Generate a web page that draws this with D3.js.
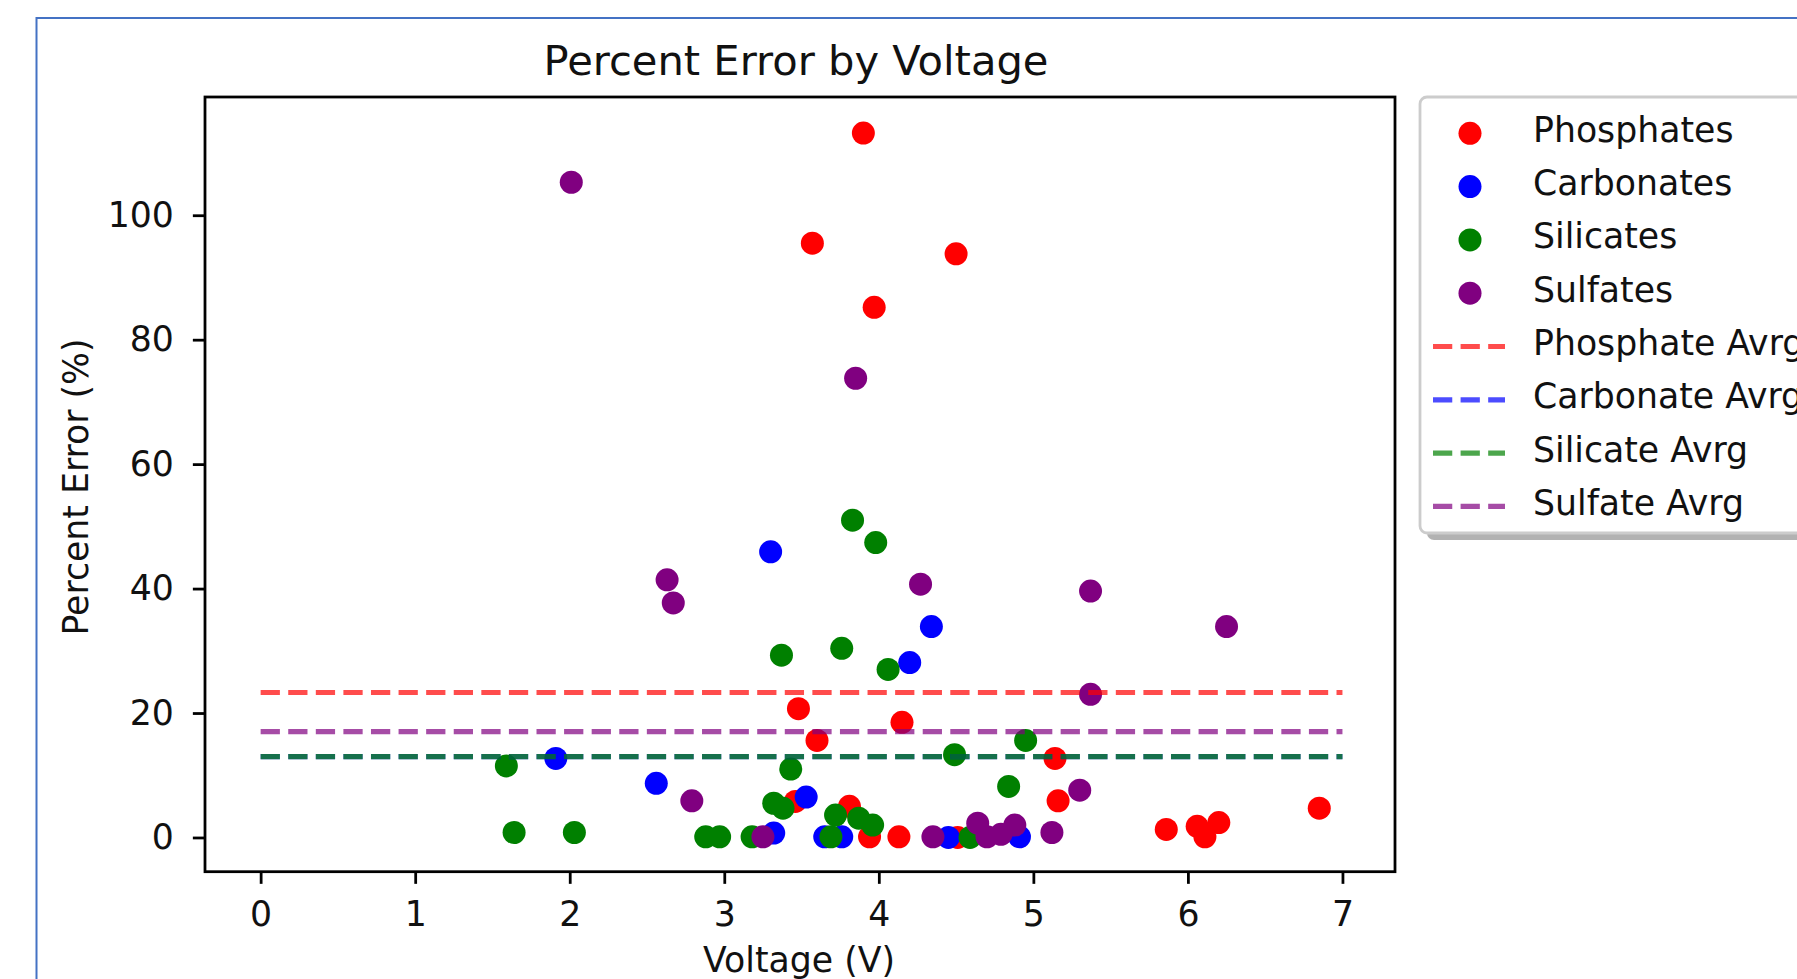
<!DOCTYPE html>
<html>
<head>
<meta charset="utf-8">
<script src="https://cdn.jsdelivr.net/npm/d3@7"></script>
<style>
  body { margin: 0; background: #fff; }
  svg { display: block; font-family: "DejaVu Sans", sans-serif; }
</style>
</head>
<body>
<div id="chart"></div>
<script>
// values
const seriesNames = ["Phosphates", "Carbonates", "Silicates", "Sulfates"];
const avgNames = ["Phosphate Avrg", "Carbonate Avrg", "Silicate Avrg", "Sulfate Avrg"];

const phosphateVolt = [3.90, 3.57, 4.50, 3.97, 3.48, 4.15, 3.60, 5.14, 5.16, 3.46, 3.81, 6.85, 5.86, 6.06, 6.20, 6.11, 3.94, 4.13, 4.51];
const phosphateErr  = [113.2, 95.5, 93.8, 85.2, 20.7, 18.5, 15.6, 12.7, 5.9, 5.8, 5.0, 4.7, 1.3, 1.8, 2.4, 0.1, 0.1, 0.1, 0.0];

const carbonateVolt = [3.30, 4.34, 4.20, 1.91, 2.56, 3.53, 3.32, 3.65, 3.76, 4.45, 4.91];
const carbonateErr  = [45.9, 33.9, 28.1, 12.7, 8.7, 6.5, 0.7, 0.1, 0.1, 0.0, 0.1];

const silicateVolt = [3.83, 3.98, 3.37, 3.76, 4.06, 4.49, 4.95, 1.59, 3.43, 4.84, 3.32, 3.38, 3.72, 3.87, 3.96, 1.64, 2.03, 2.88, 2.97, 3.18, 3.69, 4.59];
const silicateErr  = [51.0, 47.4, 29.3, 30.4, 27.0, 13.3, 15.6, 11.5, 11.0, 8.2, 5.5, 4.7, 3.6, 3.1, 2.0, 0.8, 0.8, 0.1, 0.1, 0.1, 0.1, 0.0];

const sulfateVolt = [2.01, 3.85, 2.63, 2.67, 4.27, 5.37, 6.25, 5.37, 5.30, 2.79, 3.25, 4.35, 4.64, 4.70, 4.79, 4.88, 5.12];
const sulfateErr  = [105.3, 73.8, 41.4, 37.7, 40.7, 39.6, 33.9, 23.0, 7.6, 5.9, 0.1, 0.1, 2.3, 0.1, 0.5, 2.0, 0.8];

const avgValues = [23.3, 13.0, 13.0, 17.0];
const avgVoltRange = [0, 7];

const xTicks = [0, 1, 2, 3, 4, 5, 6, 7];
const yTicks = [0, 20, 40, 60, 80, 100];

const colors = ["red", "blue", "green", "purple"];

const W = 1797, H = 979;
const pt = 3.47;            // pixels per matplotlib point
const fs = 10 * pt;         // base font size
const dotR = 11.5;
const dash = (3.7 * 1.5 * pt) + "," + (1.6 * 1.5 * pt);

const plot = { left: 205, right: 1395, top: 97, bottom: 871.7 };

let series = [
  d3.zip(phosphateVolt, phosphateErr),
  d3.zip(carbonateVolt, carbonateErr),
  d3.zip(silicateVolt, silicateErr),
  d3.zip(sulfateVolt, sulfateErr)
];

let x = d3.scaleLinear()
  .domain([-0.36, 7.34])
  .range([plot.left, plot.right]);

let y = d3.scaleLinear()
  .domain([-5.5, 119.0])
  .range([plot.bottom, plot.top]);

const svg = d3.select("#chart").append("svg")
  .attr("width", W)
  .attr("height", H);

svg.append("rect")
  .attr("width", W).attr("height", H)
  .attr("fill", "#fff");

// outer notebook frame
svg.append("rect")
  .attr("x", 36.5).attr("y", 18)
  .attr("width", W + 50).attr("height", H + 50)
  .attr("fill", "none")
  .attr("stroke", "#4472c4")
  .attr("stroke-width", 2);

// points
series.forEach(function(data, i) {
  svg.append("g").selectAll("circle")
    .data(data)
    .enter().append("circle")
    .attr("cx", function(d) { return x(d[0]); })
    .attr("cy", function(d) { return y(d[1]); })
    .attr("r", dotR)
    .attr("fill", colors[i]);
});

// average lines
avgValues.forEach(function(v, i) {
  svg.append("line")
    .attr("x1", x(avgVoltRange[0]))
    .attr("x2", x(avgVoltRange[1]))
    .attr("y1", y(v))
    .attr("y2", y(v))
    .attr("stroke", colors[i])
    .attr("stroke-opacity", 0.7)
    .attr("stroke-width", 1.5 * pt)
    .attr("stroke-dasharray", dash);
});

// axes
let xAxis = d3.axisBottom(x).tickValues(xTicks).tickSize(3.5 * pt).tickPadding(18);
let yAxis = d3.axisLeft(y).tickValues(yTicks).tickSize(3.5 * pt).tickPadding(19);

let gx = svg.append("g")
  .attr("transform", "translate(0," + plot.bottom + ")")
  .call(xAxis);
let gy = svg.append("g")
  .attr("transform", "translate(" + plot.left + ",0)")
  .call(yAxis);

[gx, gy].forEach(function(g) {
  g.select(".domain").remove();
  g.selectAll(".tick line").attr("stroke", "#000").attr("stroke-width", 0.8 * pt);
  g.selectAll(".tick text")
    .attr("font-family", "DejaVu Sans")
    .attr("font-size", fs)
    .attr("fill", "#111");
});

svg.append("rect")
  .attr("x", plot.left).attr("y", plot.top)
  .attr("width", plot.right - plot.left)
  .attr("height", plot.bottom - plot.top)
  .attr("fill", "none")
  .attr("stroke", "#000")
  .attr("stroke-width", 0.8 * pt);

// labels
svg.append("text")
  .attr("x", 796).attr("y", 75)
  .attr("text-anchor", "middle")
  .attr("font-size", 12 * pt)
  .attr("fill", "#111")
  .text("Percent Error by Voltage");

svg.append("text")
  .attr("x", 799).attr("y", 972)
  .attr("text-anchor", "middle")
  .attr("font-size", fs)
  .attr("fill", "#111")
  .text("Voltage (V)");

svg.append("text")
  .attr("transform", "translate(88,487) rotate(-90)")
  .attr("text-anchor", "middle")
  .attr("font-size", fs)
  .attr("fill", "#111")
  .text("Percent Error (%)");

// legend
const leg = { x: 1420, y: 97, h: 436, row: 53.3, first: 133.3 };

svg.append("rect")
  .attr("x", leg.x + 7).attr("y", leg.y + 7)
  .attr("width", 500).attr("height", leg.h)
  .attr("rx", 7)
  .attr("fill", "#000").attr("fill-opacity", 0.3);

svg.append("rect")
  .attr("x", leg.x).attr("y", leg.y)
  .attr("width", 500).attr("height", leg.h)
  .attr("rx", 7)
  .attr("fill", "#fff")
  .attr("stroke", "#ccc")
  .attr("stroke-width", 0.8 * pt);

let legendItems = seriesNames.map(function(n, i) { return { name: n, i: i, type: "dot" }; })
  .concat(avgNames.map(function(n, i) { return { name: n, i: i, type: "line" }; }));

let items = svg.append("g").selectAll("g")
  .data(legendItems)
  .enter().append("g")
  .attr("transform", function(d, k) { return "translate(0," + (leg.first + k * leg.row) + ")"; });

items.filter(function(d) { return d.type === "dot"; })
  .append("circle")
  .attr("cx", 1470).attr("cy", 0)
  .attr("r", dotR)
  .attr("fill", function(d) { return colors[d.i]; });

items.filter(function(d) { return d.type === "line"; })
  .append("line")
  .attr("x1", 1433).attr("x2", 1505)
  .attr("y1", 0).attr("y2", 0)
  .attr("stroke", function(d) { return colors[d.i]; })
  .attr("stroke-opacity", 0.7)
  .attr("stroke-width", 1.5 * pt)
  .attr("stroke-dasharray", dash);

items.append("text")
  .attr("x", 1533).attr("y", 8.4)
  .attr("font-size", fs)
  .attr("fill", "#111")
  .text(function(d) { return d.name; });
</script>
</body>
</html>
